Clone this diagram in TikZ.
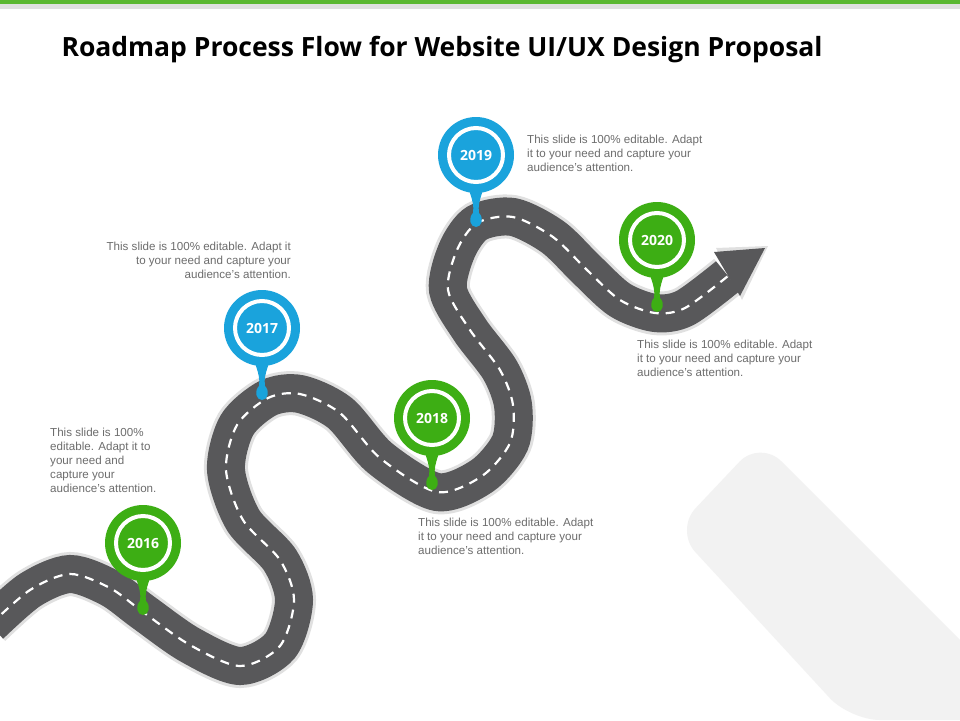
\documentclass[tikz,border=0pt]{standalone}
\usepackage{fontspec}
\setmainfont{Liberation Sans}
\newfontfamily\titlefont{Open Sans}
\usetikzlibrary{positioning}
\definecolor{roadgray}{HTML}{58585A}
\definecolor{pinblue}{HTML}{1AA3DC}
\definecolor{pingreen}{HTML}{3DAE14}
\definecolor{txtgray}{HTML}{6D6D6D}
\definecolor{topgreen}{HTML}{5BB832}

\newcommand{\roadpath}{plot[smooth,tension=0.5] coordinates{(-10,625) (30,590) (70,574) (110,588) (143,612) (190,645) (240,666) (280,646) (294,600) (280,560) (243,520) (226,470) (237,425) (268,398) (300,394) (340,413) (380,458) (437,492) (482,476) (510,443) (513,405) (500,370) (470,330) (448,290) (457,250) (477,223) (513,217) (553,237) (587,270) (620,300) (655,313) (685,308) (728,276)}}

% pin: #1 name, #2 colour, #3 position of circle centre, #4 year
\newcommand{\yearpin}[4]{%
  \begin{scope}[shift={#3}]
    \fill[#2] (-9,30) .. controls (-3,45) and (-2,52) .. (-3,58)
      .. controls (-8,63) and (-6,72) .. (0,72)
      .. controls (6,72) and (8,63) .. (3,58)
      .. controls (2,52) and (3,45) .. (9,30) -- cycle;
    \fill[#2] (0,0) circle (38);
    \draw[white,line width=4pt] (0,0) circle (27);
    \node[yeartext] (#1) at (0,0) {#4};
  \end{scope}}

\begin{document}
\begin{tikzpicture}[x=1pt,y=-1pt,
  road/.style={roadgray,line width=38pt},
  roadedge/.style={black!12,line width=44pt},
  lanes/.style={white,line width=2.2pt,dash pattern=on 9pt off 7pt},
  yeartext/.style={white,font=\titlefont\bfseries\fontsize{14}{16}\selectfont},
  blurb/.style={txtgray,font=\fontsize{11.6}{14}\selectfont,inner sep=0pt,anchor=north west,align=left}]
  \useasboundingbox (0,0) rectangle (960,720);
  \fill[white] (0,0) rectangle (960,720);

  % frame and title
  \fill[topgreen] (0,0) rectangle (960,4);
  \fill[black!12] (0,4) rectangle (960,9);
  \node[anchor=west,font=\titlefont\bfseries\fontsize{26.5}{30}\selectfont] (title) at (58,50)
    {Roadmap Process Flow for Website UI/UX Design Proposal};

  % background stripe
  \fill[black!5,rounded corners=30pt] (675,530) -- (760,440) -- (1040,720) -- (850,720) -- cycle;

  % road
  \draw[roadedge] \roadpath;
  \fill[black!12] (716,248) -- (768,246) -- (742,300) -- cycle;
  \draw[road] \roadpath;
  \fill[roadgray] (714,252) -- (765,248) -- (740,296) -- cycle;
  \draw[lanes] \roadpath;

  % pins
  \yearpin{y2016}{pingreen}{(143,543)}{2016}
  \yearpin{y2017}{pinblue}{(262,328)}{2017}
  \yearpin{y2018}{pingreen}{(432,418)}{2018}
  \yearpin{y2019}{pinblue}{(476,155)}{2019}
  \yearpin{y2020}{pingreen}{(657,240)}{2020}

  % texts
  \node[blurb] (t2016) at (50,428) {This slide is 100\%\\editable. Adapt it to\\your need and\\capture your\\audience’s attention.};
  \node[blurb,anchor=north east,align=right] (t2017) at (291,242) {This slide is 100\% editable. Adapt it\\to your need and capture your\\audience’s attention.};
  \node[blurb] (t2018) at (418,518) {This slide is 100\% editable. Adapt\\it to your need and capture your\\audience’s attention.};
  \node[blurb] (t2019) at (527,135) {This slide is 100\% editable. Adapt\\it to your need and capture your\\audience’s attention.};
  \node[blurb] (t2020) at (637,340) {This slide is 100\% editable. Adapt\\it to your need and capture your\\audience’s attention.};
\end{tikzpicture}
\end{document}
